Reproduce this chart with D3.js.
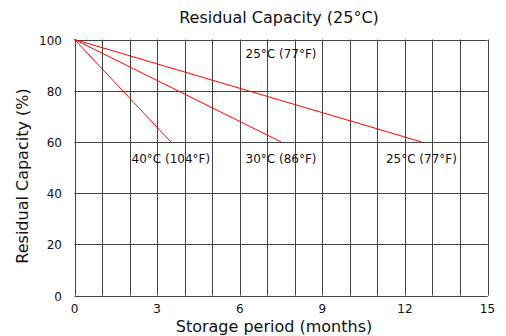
<!DOCTYPE html>
<html><head><meta charset="utf-8">
<script src="https://cdn.jsdelivr.net/npm/d3@7"></script>
<style>body{margin:0;background:#fff}svg text{font-family:"DejaVu Sans",sans-serif;fill:#111}</style>
</head><body><svg id="c" width="506" height="336"></svg>
<script>
const xTicks = [0,3,6,9,12,15];
const yTicks = [0,20,40,60,80,100];
const seriesNames = ["40°C (104°F)","30°C (86°F)","25°C (77°F)"];
const startMonths = [0,0,0];
const startValues = [100,100,100];
const endMonths = [3.5,7.5,12.6];
const endValues = [60,60,60];
const topLabel = "25°C (77°F)";

const svg = d3.select("#c");
const x = d3.scaleLinear().domain([0,15]).range([74.5,487.5]);
const y = d3.scaleLinear().domain([0,100]).range([295.5,39.5]);

const grid = svg.append("g").attr("stroke","#444").attr("stroke-width",1);
d3.range(0,16).forEach(m=>{
  grid.append("line").attr("x1",Math.round(x(m))+0.5).attr("x2",Math.round(x(m))+0.5).attr("y1",y(100)).attr("y2",y(0));
});
yTicks.forEach(v=>{
  grid.append("line").attr("x1",x(0)).attr("x2",x(15)).attr("y1",Math.round(y(v))+0.5).attr("y2",Math.round(y(v))+0.5);
});

svg.append("g").selectAll("text").data(yTicks).join("text")
  .attr("x",62).attr("y",d=>y(d)+5).attr("text-anchor","end").attr("font-size",12).text(d=>d);
svg.append("g").selectAll("text").data(xTicks).join("text")
  .attr("x",d=>x(d)).attr("y",313).attr("text-anchor","middle").attr("font-size",12).text(d=>d);

const lines = svg.append("g").attr("stroke","#f00").attr("stroke-width",1);
seriesNames.forEach((n,i)=>{
  lines.append("line").attr("x1",x(startMonths[i])).attr("y1",y(startValues[i]))
    .attr("x2",x(endMonths[i])).attr("y2",y(endValues[i]));
  svg.append("text").attr("x",x(endMonths[i])).attr("y",y(endValues[i])+21)
    .attr("text-anchor","middle").attr("font-size",12).text(n);
});
svg.append("text").attr("x",281).attr("y",58).attr("text-anchor","middle").attr("font-size",12).text(topLabel);

svg.append("text").attr("x",279).attr("y",23).attr("text-anchor","middle").attr("font-size",16).text("Residual Capacity (25°C)");
svg.append("text").attr("x",274).attr("y",332).attr("text-anchor","middle").attr("font-size",16).text("Storage period (months)");
svg.append("text").attr("transform","translate(28,176) rotate(-90)").attr("text-anchor","middle").attr("font-size",16).text("Residual Capacity (%)");
</script></body></html>
